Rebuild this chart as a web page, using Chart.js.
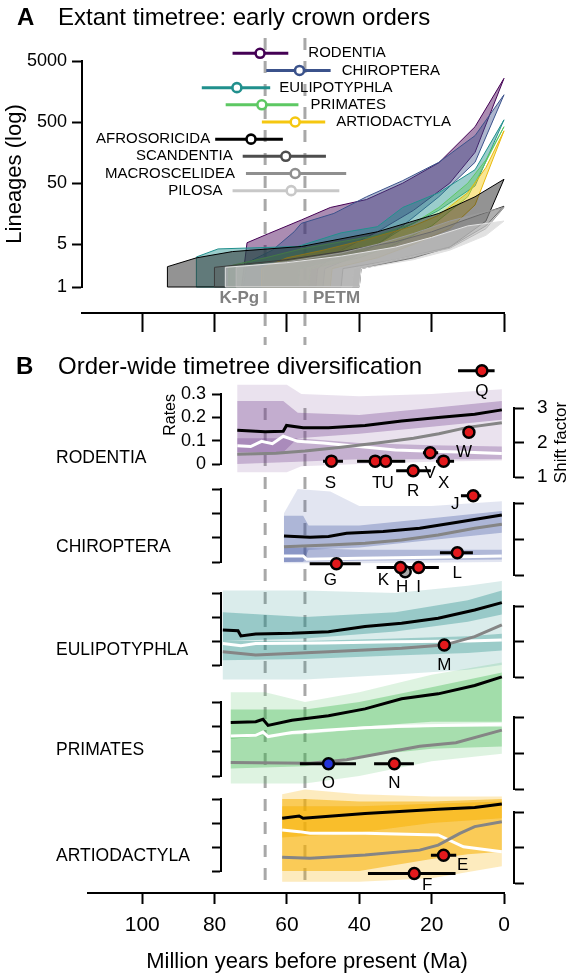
<!DOCTYPE html>
<html>
<head>
<meta charset="utf-8">
<title>Timetree diversification</title>
<script src="https://cdn.jsdelivr.net/npm/chart.js"></script>
<style>
  html, body { margin: 0; padding: 0; background: #fff; }
  #wrap { position: relative; width: 570px; height: 975px; }
  #wrap canvas { position: absolute; left: 0; top: 0; }
</style>
</head>
<body>
<div id="wrap">
  <canvas id="lineages" width="570" height="975"></canvas>
  <canvas id="rates" width="570" height="975"></canvas>
  <canvas id="timeAxis" width="570" height="975"></canvas>
</div>
<script>
// ---------- data ----------
const ageTicks = [100, 80, 60, 40, 20, 0];
const lineageTicks = [1, 5, 50, 500, 5000];
const rateTicks = [0, 0.1, 0.2, 0.3];
const shiftTicks = [1, 2, 3];
const boundaryAges = [66, 55];
const boundaryNames = ['K-Pg', 'PETM'];

// panel A: crown ages (Ma) and lineage-through-time envelopes [Ma, lineages]
const crownOrders = ['RODENTIA', 'CHIROPTERA', 'EULIPOTYPHLA', 'PRIMATES', 'ARTIODACTYLA',
  'AFROSORICIDA', 'SCANDENTIA', 'MACROSCELIDEA', 'PILOSA'];
const crownAge   = [67.4, 56.5, 73.8, 66.9, 57.7, 69.9, 60.3, 57.7, 58.8];
const crownOld   = [75.0, 65.7, 83.5, 76.9, 66.9, 79.8, 72.2, 71.3, 75.0];
const crownYoung = [59.6, 47.9, 64.6, 56.8, 49.4, 61.1, 49.2, 43.6, 45.5];

const lttUpper = [
  [[72.5,1],[71,5.3],[65,7.5],[56,12.5],[48,20],[38,27],[28,50],[18,108],[8,420],[0,2600]],
  [[72,1],[71,2.5],[64,4],[58,8],[56,11],[47,16],[38,30],[28,55],[18,110],[8,300],[0,1400]],
  [[85,1],[85,3.1],[79,4.2],[57,4.6],[45,7.7],[35,9.7],[28,20],[18,35],[8,83],[0,545]],
  [[76,1],[76,2.2],[66,3],[56,4.2],[45,5.5],[35,7],[25,11],[18,20],[10,50],[5,120],[0,420]],
  [[67,1],[67,2],[60,3],[50,4],[38,6],[25,10],[18,15],[10,35],[5,90],[0,360]],
  [[93,1],[93,2.15],[85,3],[75,3.8],[56,4.6],[35,8],[18,16],[8,30],[0,58]],
  [[80,1],[80,2.1],[60,2.8],[45,3.8],[30,5.5],[20,8],[10,13],[0,21]],
  [[74,1],[74,2.1],[60,2.6],[45,3.6],[35,5],[25,7.5],[15,12],[5,17],[0,20]],
  [[77,1],[77,2.1],[60,2.5],[45,3.2],[30,4.5],[20,6.5],[10,10],[0,12]]
];
const lttLower = [
  [[72.5,1],[52,1],[51.5,2],[45,4],[35,8],[25,18],[15,50],[8,160],[0,2600]],
  [[72,1],[50,1],[49.5,2],[42,3],[35,5],[28,10],[18,30],[8,110],[0,1400]],
  [[85,1],[57,1],[56.5,2],[45,3],[35,5],[28,9],[18,18],[8,45],[0,545]],
  [[76,1],[54,1],[53.5,2],[40,3],[30,5],[20,10],[10,30],[0,420]],
  [[67,1],[48,1],[47.5,2],[35,3],[25,5],[15,9],[8,22],[0,360]],
  [[93,1],[40,1],[39.5,2],[25,3],[15,4.5],[5,12],[0,58]],
  [[80,1],[45,1],[44.5,2],[30,2.8],[15,4.5],[5,10],[0,21]],
  [[74,1],[42,1],[41.5,2],[30,2.8],[15,4.3],[5,9],[0,20]],
  [[77,1],[40,1],[39.5,2],[25,2.8],[15,4],[5,7],[0,12]]
];

// panel B: rate-through-time curves [Ma, rate]
const rateOrders = ['RODENTIA', 'CHIROPTERA', 'EULIPOTYPHLA', 'PRIMATES', 'ARTIODACTYLA'];
const speciationRate = [
  [[73.7,0.145],[66,0.138],[61,0.14],[60.1,0.165],[55.5,0.155],[48.5,0.155],[38.4,0.165],[28.3,0.184],[18.2,0.199],[8.1,0.213],[0.6,0.232]],
  [[60.8,0.107],[53.6,0.102],[48.5,0.105],[43.5,0.118],[33.4,0.125],[23.3,0.139],[13.3,0.162],[0.6,0.193]],
  [[77.7,0.146],[73.5,0.143],[72.7,0.121],[68.6,0.129],[58.6,0.132],[48.5,0.139],[38.4,0.16],[28.3,0.174],[18.2,0.195],[8.1,0.229],[0.6,0.26]],
  [[75.5,0.217],[68.6,0.22],[66.6,0.23],[65.2,0.205],[58.6,0.226],[48.5,0.244],[38.4,0.272],[28.3,0.313],[18.2,0.333],[8.1,0.367],[0.6,0.402]],
  [[61.3,0.22],[56.6,0.229],[55.5,0.22],[38.4,0.24],[18.2,0.257],[8.1,0.265],[0.6,0.279]]
];
const extinctionRate = [
  [[73.7,0.078],[70,0.075],[67,0.097],[64,0.087],[61,0.119],[57,0.097],[50,0.09],[40,0.075],[30,0.06],[20,0.055],[10,0.05],[0.6,0.045]],
  [[60.8,0.025],[55.5,0.025],[54.5,0.011],[40,0.015],[20,0.02],[0.6,0.025]],
  [[77.7,0.09],[72.7,0.08],[68.6,0.09],[50,0.092],[30,0.097],[10,0.1],[0.6,0.104]],
  [[75.5,0.162],[68.6,0.165],[66.6,0.178],[65.2,0.16],[58.6,0.176],[48.5,0.186],[38.4,0.196],[28.3,0.202],[0.6,0.21]],
  [[61.3,0.171],[56.6,0.164],[53.6,0.157],[38.4,0.157],[18.2,0.15],[11.2,0.101],[0.6,0.08]]
];
const netDivRate = [
  [[73.7,0.042],[63,0.046],[55,0.056],[45,0.072],[35,0.09],[25,0.11],[18,0.13],[10,0.157],[0.6,0.177]],
  [[60.8,0.063],[48.5,0.07],[38.4,0.077],[28.3,0.09],[18.2,0.111],[8.1,0.139],[0.6,0.155]],
  [[77.7,0.055],[68.6,0.042],[48.5,0.055],[28.3,0.07],[16.6,0.083],[8.1,0.118],[0.6,0.167]],
  [[75.5,0.055],[53.6,0.052],[43.5,0.066],[33.4,0.093],[23.3,0.121],[13.3,0.135],[0.6,0.186]],
  [[61.3,0.057],[53.6,0.053],[38.4,0.067],[23.3,0.087],[18.2,0.108],[12.2,0.157],[8.1,0.185],[0.6,0.205]]
];
// posterior rate density, drawn as three nested envelopes
const rateCloudHi = [
  [[73.7,0.34],[60,0.34],[56,0.3],[40,0.29],[20,0.3],[0.6,0.32]],
  [[60.8,0.2],[57,0.3],[48,0.29],[40,0.23],[20,0.23],[0.6,0.25]],
  [[77.7,0.31],[55,0.31],[30,0.3],[10,0.33],[0.6,0.35]],
  [[75.5,0.34],[66,0.34],[55,0.3],[40,0.34],[20,0.41],[0.6,0.46]],
  [[61.3,0.32],[55,0.34],[40,0.32],[20,0.31],[0.6,0.31]]
];
const rateCloudLo = [
  [[73.7,-0.035],[60,-0.035],[56,-0.01],[40,0],[20,0.01],[0.6,0.015]],
  [[60.8,-0.005],[40,-0.005],[0.6,0]],
  [[77.7,-0.06],[55,-0.06],[30,-0.04],[10,-0.02],[0.6,0]],
  [[75.5,-0.03],[55,-0.03],[40,0],[20,0.06],[0.6,0.09]],
  [[61.3,-0.045],[40,-0.045],[20,-0.03],[0.6,0.02]]
];
const rateCoreHi = [
  [[73.7,0.27],[61,0.27],[57,0.22],[40,0.21],[20,0.24],[0.6,0.27]],
  [[60.8,0.19],[55.5,0.19],[54,0.15],[40,0.15],[20,0.18],[0.6,0.21]],
  [[77.7,0.22],[55,0.2],[30,0.22],[10,0.27],[0.6,0.31]],
  [[75.5,0.27],[55,0.27],[40,0.3],[20,0.36],[0.6,0.42]],
  [[61.3,0.3],[55,0.3],[40,0.29],[20,0.29],[0.6,0.3]]
];
const rateCoreLo = [
  [[73.7,0.05],[61,0.05],[57,0.11],[40,0.13],[20,0.16],[0.6,0.19]],
  [[60.8,0],[55.5,0],[54,0.05],[40,0.06],[20,0.09],[0.6,0.12]],
  [[77.7,0.1],[55,0.11],[30,0.14],[10,0.18],[0.6,0.21]],
  [[75.5,0.15],[55,0.18],[40,0.2],[20,0.22],[0.6,0.22]],
  [[61.3,0],[40,0],[20,0.05],[10,0.07],[0.6,0.08]]
];
const rateBandHi = [
  [[73.7,0.11],[57,0.11],[40,0.09],[20,0.08],[0.6,0.075]],
  [[60.8,0.06],[40,0.05],[0.6,0.05]],
  [[77.7,0.1],[55,0.1],[30,0.11],[10,0.12],[0.6,0.13]],
  [[75.5,0.16],[55,0.17],[40,0.19],[20,0.2],[0.6,0.2]],
  [[61.3,0.27],[40,0.27],[20,0.28],[0.6,0.29]]
];
const rateBandLo = [
  [[73.7,0],[57,0.01],[40,0.02],[20,0.02],[0.6,0.02]],
  [[60.8,0],[40,0.005],[0.6,0.01]],
  [[77.7,0.02],[55,0.025],[30,0.04],[10,0.05],[0.6,0.06]],
  [[75.5,0.03],[55,0.04],[40,0.08],[20,0.11],[0.6,0.12]],
  [[61.3,0.14],[40,0.16],[20,0.2],[0.6,0.22]]
];

// rate shifts: age (Ma) with 95% interval and shift factor
const shiftLabels   = ['Q','S','T','U','R','V','X','W','J','L','G','H','K','I','M','O','N','E','F'];
const shiftOrder    = [0,0,0,0,0,0,0,0,1,1,1,1,1,1,2,3,3,4,4];
const shiftAge      = [6.1,47.7,35.6,32.7,25.1,20.4,16.7,9.7,8.5,12.9,46.3,27.3,28.6,23.6,16.5,48.5,30.3,16.7,24.8];
const shiftAgeOld   = [12.7,50,40.6,37,29.8,22.4,18.8,11.2,11.9,17.7,53.7,28.5,35.2,27.3,17,56.4,35.9,20.2,37.6];
const shiftAgeYoung = [2.6,44.5,30.9,27.3,20.2,18.2,13.8,8.1,6.3,8.6,39.6,26,25.3,18,16,40.9,24.9,13.2,13.4];
const shiftFactor   = [4.08,1.46,1.46,1.46,1.18,1.7,1.46,2.3,3.2,1.62,1.31,1.09,1.21,1.21,1.9,1.7,1.7,1.78,1.27];
const shiftKind     = ['up','up','up','up','up','up','up','up','up','up','up','weak','up','up','up','down','up','up','up'];

// ---------- style ----------
const FONT = '"Liberation Sans", Arial, Helvetica, sans-serif';
Chart.defaults.font.family = FONT;
Chart.defaults.color = '#000';
Chart.defaults.animation = false;
Chart.defaults.plugins.legend.display = false;
Chart.defaults.plugins.tooltip.enabled = false;
Chart.defaults.elements.line.tension = 0;
Chart.defaults.elements.point.radius = 0;

const crownColor = ['#440154','#3b528b','#21908d','#5dc863','#f5c710','#000000','#4d4d4d','#8f8f8f','#c8c8c8'];
const lttFill = ['rgba(68,1,84,0.45)','rgba(59,82,139,0.42)','rgba(33,144,141,0.45)','rgba(93,200,99,0.4)',
  'rgba(245,199,16,0.45)','rgba(40,40,40,0.5)','rgba(90,90,90,0.4)','rgba(160,160,160,0.45)','rgba(205,205,205,0.6)'];
const lttEdge = ['#440154','#3b528b','#21908d','#5dc863','#e8b90c','#000','#3d3d3d','#9a9a9a','#e2e2e2'];
const labelSide = ['right','right','right','right','right','left','left','left','left'];
const labelGap = [20, 11, 9, 12, 11, 5, 10, 11, 10];

const rateRGB = [[112,60,140],[60,80,160],[30,140,135],[55,180,70],[248,176,0]];
const rateAlphaScale = [1, 1, 1.1, 1.1, 1.7];
const orderLabelRate = [0.025, 0.062, 0.062, 0.103, 0.062];
const leftBands  = [[54,-1],[70,0],[25,-1],[73,1],[31,-1],[72,2],[37,-1],[74,3],[23,-1],[72,4],[22,-1]];
const rightBands = [[68,-1],[69,0],[26,-1],[72,1],[31,-1],[71,2],[40,-1],[72,3],[23,-1],[71,4],[10,-1]];
const shiftFill = { up: '#e3191c', down: '#2233d8', weak: '#a8a8a8' };
const shiftLabelDx = [0,-1,2,2,0,0,0,-5,-18,0,-6,-3,-17,0,0,0,0,19,13];
const shiftLabelDy = [21,22,22,22,21,20,22,20,9,21,16,16,13,20,20,20,20,10,12];

const pts = arr => arr.map(([x, y]) => ({x, y}));
const shape = (upper, lower) => pts(upper.concat(lower.slice().reverse()));
const rgba = (rgb, a) => `rgba(${rgb.join(',')},${Math.min(a, 1)})`;
const tickList = values => s => { s.ticks = values.map(v => ({value: v})); };

function drawBoundaries(chart, top, bottom) {
  const {ctx, scales: {x}} = chart;
  ctx.save();
  ctx.strokeStyle = '#a8a8a8';
  ctx.lineWidth = 3;
  ctx.setLineDash([12, 11]);
  boundaryAges.forEach(a => {
    const px = x.getPixelForValue(a);
    ctx.beginPath(); ctx.moveTo(px, top); ctx.lineTo(px, bottom); ctx.stroke();
  });
  ctx.restore();
}

// ---------- panel A ----------
const panelAText = {
  id: 'panelAText',
  beforeDatasetsDraw(chart) {
    const y = chart.scales.y;
    drawBoundaries(chart, 38, y.bottom + 58);
  },
  afterDraw(chart) {
    const {ctx, scales: {x, y, yRow}} = chart;
    ctx.save();
    ctx.fillStyle = '#000';
    ctx.textBaseline = 'alphabetic';
    ctx.textAlign = 'left';
    ctx.font = `bold 24px ${FONT}`;
    ctx.fillText('A', 17, 25);
    ctx.font = `24px ${FONT}`;
    ctx.fillText('Extant timetree: early crown orders', 58, 25);

    ctx.font = `15px ${FONT}`;
    ctx.textBaseline = 'middle';
    crownOrders.forEach((name, i) => {
      const py = yRow.getPixelForValue(i);
      if (labelSide[i] === 'right') {
        ctx.textAlign = 'left';
        ctx.fillText(name, x.getPixelForValue(crownYoung[i]) + labelGap[i], py);
      } else {
        ctx.textAlign = 'right';
        ctx.fillText(name, x.getPixelForValue(crownOld[i]) - labelGap[i], py);
      }
    });

    ctx.font = `bold 17px ${FONT}`;
    ctx.fillStyle = '#808080';
    const by = y.bottom + 11;
    ctx.textAlign = 'right';
    ctx.fillText(boundaryNames[0], x.getPixelForValue(boundaryAges[0]) - 6, by);
    ctx.textAlign = 'left';
    ctx.fillText(boundaryNames[1], x.getPixelForValue(boundaryAges[1]) + 8, by);
    ctx.restore();
  }
};

const lttSets = crownOrders.map((name, i) => ({
  label: name,
  data: shape(lttUpper[i], lttLower[i]),
  yAxisID: 'y',
  fill: 'shape',
  backgroundColor: lttFill[i],
  borderColor: lttEdge[i],
  borderWidth: 1,
  order: 40 - i,
  clip: false
}));
const crownSets = crownOrders.map((name, i) => ({
  label: name + ' crown',
  data: [{x: crownOld[i], y: i}, {x: crownAge[i], y: i}, {x: crownYoung[i], y: i}],
  yAxisID: 'yRow',
  borderColor: crownColor[i],
  borderWidth: 3,
  pointRadius: [0, 4.5, 0],
  pointBackgroundColor: '#fff',
  pointBorderColor: crownColor[i],
  pointBorderWidth: 2.6,
  order: 1,
  clip: false
}));

new Chart(document.getElementById('lineages'), {
  type: 'line',
  data: { datasets: crownSets.concat(lttSets) },
  options: {
    responsive: false,
    layout: { padding: { left: 0, right: 66, top: 40, bottom: 688 } },
    scales: {
      x: {
        type: 'linear', reverse: true, min: 0, max: 116.6,
        position: { y: 0.375 },
        afterBuildTicks: tickList(ageTicks),
        ticks: { display: false },
        grid: { drawOnChartArea: false, tickLength: 18, tickWidth: 2, tickColor: '#000' },
        border: { width: 2, color: '#000' }
      },
      yTop: {
        type: 'linear', axis: 'y', position: 'left', stack: 'A', stackWeight: 21, weight: 2, min: 0, max: 1,
        afterFit: s => { s.width = 82; },
        ticks: { display: false }, grid: { display: false }, border: { display: false }
      },
      y: {
        type: 'logarithmic', position: 'left', stack: 'A', stackWeight: 226, weight: 1, min: 1, max: 5000,
        afterBuildTicks: tickList(lineageTicks),
        afterFit: s => { s.width = 82; },
        ticks: { font: { size: 18 }, padding: 5, autoSkip: false, callback: v => String(v) },
        grid: { drawOnChartArea: false, tickLength: 10, tickWidth: 2, tickColor: '#000' },
        border: { width: 2, color: '#000' },
        title: { display: true, text: 'Lineages (log)', font: { size: 22 }, padding: { top: 2, bottom: 0 } }
      },
      yRow: { type: 'linear', axis: 'y', position: 'left', display: false, reverse: true, min: -0.774, max: 13.61 }
    }
  },
  plugins: [panelAText]
});

// ---------- panel B ----------
function spacer(position, stack, h, weight) {
  return {
    type: 'linear', axis: 'y', position, stack, stackWeight: h, weight, min: 0, max: 1,
    afterFit: s => { s.width = position === 'left' ? 60 : 56; },
    ticks: { display: false }, grid: { display: false }, border: { display: false }
  };
}
function rateAxis(k, h, weight) {
  return {
    type: 'linear', axis: 'y', position: 'left', stack: 'L', stackWeight: h, weight, min: 0, max: 0.3,
    afterBuildTicks: tickList(rateTicks),
    afterFit: s => { s.width = 60; },
    ticks: { display: k === 0, autoSkip: false, font: { size: 18 }, padding: 6, callback: v => String(v) },
    grid: { drawOnChartArea: false, tickLength: 9, tickWidth: 2, tickColor: '#000' },
    border: { width: 2, color: '#000' },
    title: { display: k === 0, text: 'Rates', font: { size: 16 }, align: 'end', padding: { top: 0, bottom: 0 } }
  };
}
function shiftAxis(k, h, weight) {
  return {
    type: 'linear', axis: 'y', position: 'right', stack: 'R', stackWeight: h, weight, min: 1, max: 3,
    afterBuildTicks: tickList(shiftTicks),
    afterFit: s => { s.width = 56; },
    ticks: { display: k === 0, autoSkip: false, font: { size: 19 }, padding: 13, callback: v => String(v) },
    grid: { drawOnChartArea: false, tickLength: 10, tickWidth: 2, tickColor: '#000' },
    border: { width: 2, color: '#000' }
  };
}

const rateScales = {
  x: { type: 'linear', display: false, reverse: true, min: -2.76, max: 78.2 }
};
leftBands.forEach(([h, k], i) => {
  if (k < 0) rateScales['yGapL' + i] = spacer('left', 'L', h, 100 - i);
  else rateScales['yRate' + k] = rateAxis(k, h, 100 - i);
});
rightBands.forEach(([h, k], i) => {
  if (k < 0) rateScales['yGapR' + i] = spacer('right', 'R', h, i);
  else rateScales['yShift' + k] = shiftAxis(k, h, i);
});

const rateSets = [];
rateOrders.forEach((name, k) => {
  const yid = 'yRate' + k;
  const sid = 'yShift' + k;
  const rgb = rateRGB[k];
  const m = rateAlphaScale[k];
  [[rateCloudHi, rateCloudLo, 0.15, 60], [rateCoreHi, rateCoreLo, 0.32, 59], [rateBandHi, rateBandLo, 0.3, 58]]
    .forEach(([hi, lo, a, ord]) => {
      rateSets.push({ data: shape(hi[k], lo[k]), yAxisID: yid, fill: 'shape',
        backgroundColor: rgba(rgb, a * m), borderWidth: 0, order: ord, clip: false });
    });
  rateSets.push({ data: pts(extinctionRate[k]), yAxisID: yid, borderColor: '#fff', borderWidth: 3, order: 30, clip: false });
  rateSets.push({ data: pts(netDivRate[k]), yAxisID: yid, borderColor: '#858585', borderWidth: 3, order: 29, clip: false });
  rateSets.push({ data: pts(speciationRate[k]), yAxisID: yid, borderColor: '#000', borderWidth: 3, order: 28, clip: false });

  const idx = shiftOrder.map((o, i) => o === k ? i : -1).filter(i => i >= 0);
  const bars = [];
  idx.forEach(i => {
    bars.push({x: shiftAgeOld[i], y: shiftFactor[i]}, {x: shiftAgeYoung[i], y: shiftFactor[i]}, {x: shiftAgeYoung[i], y: null});
  });
  rateSets.push({ data: bars, yAxisID: sid, borderColor: '#000', borderWidth: 3, spanGaps: false, order: 5, clip: false });
  rateSets.push({
    data: idx.map(i => ({x: shiftAge[i], y: shiftFactor[i]})), yAxisID: sid, showLine: false,
    pointRadius: 5.5, pointBorderWidth: 2.5, pointBorderColor: '#000',
    pointBackgroundColor: idx.map(i => shiftFill[shiftKind[i]]), order: 4, clip: false
  });
});

const panelBText = {
  id: 'panelBText',
  beforeDatasetsDraw(chart) {
    const a = chart.chartArea;
    drawBoundaries(chart, a.top + 68, a.bottom - 13);
  },
  afterDraw(chart) {
    const {ctx, scales} = chart;
    ctx.save();
    ctx.fillStyle = '#000';
    ctx.textAlign = 'left';
    ctx.textBaseline = 'alphabetic';
    ctx.font = `bold 24px ${FONT}`;
    ctx.fillText('B', 16, 374);
    ctx.font = `24px ${FONT}`;
    ctx.fillText('Order-wide timetree diversification', 58, 374);

    ctx.font = `17.5px ${FONT}`;
    ctx.textBaseline = 'middle';
    rateOrders.forEach((name, k) => {
      ctx.fillText(name, 56, scales['yRate' + k].getPixelForValue(orderLabelRate[k]));
    });

    ctx.font = `17px ${FONT}`;
    ctx.textAlign = 'center';
    shiftLabels.forEach((lab, i) => {
      const px = scales.x.getPixelForValue(shiftAge[i]) + shiftLabelDx[i];
      const py = scales['yShift' + shiftOrder[i]].getPixelForValue(shiftFactor[i]) + shiftLabelDy[i];
      ctx.fillText(lab, px, py);
    });

    // right-hand axis title, reading bottom to top
    const s0 = scales.yShift0;
    ctx.translate(s0.right - 9, (s0.top + s0.bottom) / 2);
    ctx.rotate(-Math.PI / 2);
    ctx.font = `17px ${FONT}`;
    ctx.fillText('Shift factor', 0, 0);
    ctx.restore();
  }
};

new Chart(document.getElementById('rates'), {
  type: 'line',
  data: { datasets: rateSets },
  options: {
    responsive: false,
    layout: { padding: { left: 161, right: 0, top: 340, bottom: 82 } },
    scales: rateScales
  },
  plugins: [panelBText]
});

// ---------- shared time axis ----------
const axisTitle = {
  id: 'axisTitle',
  afterDraw(chart) {
    const {ctx, chartArea} = chart;
    ctx.save();
    ctx.fillStyle = '#000';
    ctx.font = `22px ${FONT}`;
    ctx.textAlign = 'center';
    ctx.textBaseline = 'alphabetic';
    ctx.fillText('Million years before present (Ma)', (chartArea.left + chartArea.right) / 2 + 11, 968);
    ctx.restore();
  }
};

new Chart(document.getElementById('timeAxis'), {
  type: 'line',
  data: { datasets: [] },
  options: {
    responsive: false,
    layout: { padding: { left: 88, right: 66, top: 0, bottom: 0 } },
    scales: {
      x: {
        type: 'linear', reverse: true, min: 0, max: 115, position: 'bottom',
        afterBuildTicks: tickList(ageTicks),
        afterFit: s => { s.height = 82; },
        ticks: { font: { size: 21 }, padding: 9, maxRotation: 0, callback: v => String(v) },
        grid: { drawOnChartArea: false, tickLength: 11, tickWidth: 2, tickColor: '#000' },
        border: { width: 2, color: '#000' }
      },
      y: { display: false, min: 0, max: 1 }
    }
  },
  plugins: [axisTitle]
});
</script>
</body>
</html>
